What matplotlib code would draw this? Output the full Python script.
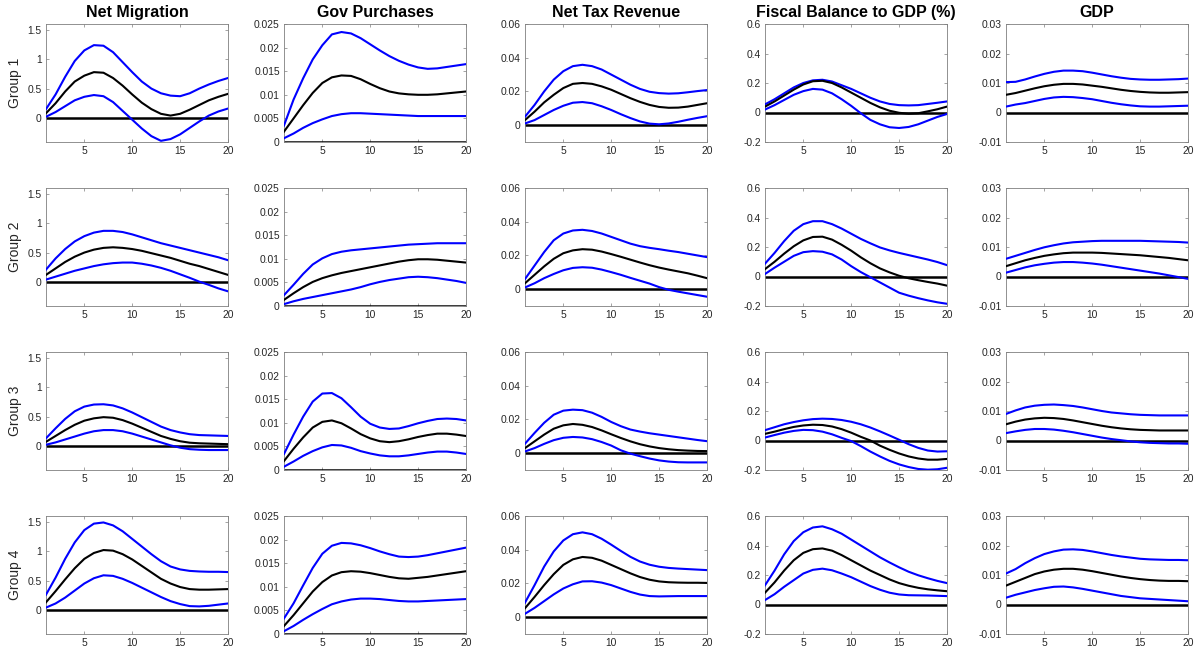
import numpy as np
import matplotlib
matplotlib.use("Agg")
import matplotlib.pyplot as plt

plt.rcParams['font.family'] = ['Liberation Sans', 'DejaVu Sans']

horizon = list(range(1, 21))
titles = ["Net Migration", "Gov Purchases", "Net Tax Revenue", "Fiscal Balance to GDP (%)", "GDP"]
groups = ["Group 1", "Group 2", "Group 3", "Group 4"]

# ---------- Net Migration ----------
nm_g1_up = [0.15, 0.40, 0.70, 0.97, 1.15, 1.24, 1.23, 1.12, 0.95, 0.78, 0.62, 0.50, 0.42, 0.38, 0.37, 0.42, 0.50, 0.57, 0.63, 0.68]
nm_g1_md = [0.08, 0.25, 0.45, 0.62, 0.72, 0.78, 0.77, 0.68, 0.55, 0.40, 0.26, 0.15, 0.07, 0.04, 0.07, 0.14, 0.22, 0.30, 0.36, 0.41]
nm_g1_lo = [0.02, 0.10, 0.20, 0.30, 0.36, 0.39, 0.37, 0.27, 0.12, -0.03, -0.18, -0.31, -0.39, -0.36, -0.28, -0.17, -0.06, 0.04, 0.11, 0.16]
nm_g2_up = [0.21, 0.40, 0.56, 0.69, 0.78, 0.84, 0.87, 0.87, 0.85, 0.81, 0.76, 0.71, 0.66, 0.62, 0.58, 0.54, 0.50, 0.46, 0.42, 0.37]
nm_g2_md = [0.12, 0.23, 0.34, 0.43, 0.50, 0.55, 0.58, 0.59, 0.58, 0.56, 0.53, 0.49, 0.45, 0.41, 0.36, 0.31, 0.27, 0.22, 0.17, 0.12]
nm_g2_lo = [0.04, 0.09, 0.14, 0.19, 0.23, 0.27, 0.30, 0.32, 0.33, 0.33, 0.31, 0.28, 0.24, 0.19, 0.13, 0.07, 0.005, -0.05, -0.11, -0.16]
nm_g3_up = [0.13, 0.30, 0.46, 0.59, 0.67, 0.705, 0.71, 0.69, 0.64, 0.57, 0.49, 0.41, 0.33, 0.27, 0.23, 0.20, 0.185, 0.18, 0.175, 0.17]
nm_g3_md = [0.07, 0.17, 0.27, 0.36, 0.43, 0.47, 0.49, 0.48, 0.44, 0.38, 0.31, 0.24, 0.17, 0.12, 0.08, 0.055, 0.045, 0.04, 0.035, 0.03]
nm_g3_lo = [0.02, 0.06, 0.11, 0.16, 0.21, 0.25, 0.27, 0.27, 0.25, 0.21, 0.16, 0.11, 0.06, 0.01, -0.03, -0.055, -0.065, -0.07, -0.07, -0.07]
nm_g4_up = [0.26, 0.55, 0.87, 1.15, 1.36, 1.47, 1.49, 1.44, 1.34, 1.21, 1.08, 0.95, 0.83, 0.74, 0.69, 0.665, 0.655, 0.65, 0.65, 0.645]
nm_g4_md = [0.13, 0.32, 0.52, 0.71, 0.87, 0.97, 1.02, 1.01, 0.95, 0.86, 0.75, 0.64, 0.53, 0.45, 0.39, 0.355, 0.345, 0.345, 0.35, 0.355]
nm_g4_lo = [0.04, 0.11, 0.21, 0.33, 0.45, 0.54, 0.59, 0.58, 0.53, 0.46, 0.38, 0.30, 0.22, 0.15, 0.10, 0.065, 0.06, 0.07, 0.09, 0.11]

# ---------- Gov Purchases ----------
gp_g1_up = [0.0035, 0.0090, 0.0135, 0.0175, 0.0205, 0.0228, 0.0233, 0.0230, 0.0220, 0.0207, 0.0194, 0.0182, 0.0172, 0.0164, 0.0158, 0.0155, 0.0156, 0.0159, 0.0162, 0.0165]
gp_g1_md = [0.0022, 0.0050, 0.0078, 0.0104, 0.0125, 0.0137, 0.0141, 0.0140, 0.0133, 0.0123, 0.0114, 0.0107, 0.0103, 0.0101, 0.0100, 0.0100, 0.0101, 0.0103, 0.0105, 0.0107]
gp_g1_lo = [0.0008, 0.0018, 0.0030, 0.0040, 0.0048, 0.0055, 0.0059, 0.0061, 0.0061, 0.0060, 0.0059, 0.0058, 0.0057, 0.0056, 0.0055, 0.0055, 0.0055, 0.0055, 0.0055, 0.0055]
gp_g2_up = [0.0023, 0.0045, 0.0068, 0.0088, 0.0101, 0.0110, 0.0115, 0.0118, 0.0120, 0.0122, 0.0124, 0.0126, 0.0128, 0.0130, 0.0131, 0.0132, 0.0133, 0.0133, 0.0133, 0.0133]
gp_g2_md = [0.0013, 0.0027, 0.0040, 0.0051, 0.0059, 0.0065, 0.0070, 0.0074, 0.0078, 0.0082, 0.0086, 0.0090, 0.0094, 0.0097, 0.0099, 0.0099, 0.0098, 0.0096, 0.0094, 0.0092]
gp_g2_lo = [0.0004, 0.0010, 0.0015, 0.0019, 0.0023, 0.0027, 0.0031, 0.0035, 0.0040, 0.0046, 0.0051, 0.0055, 0.0058, 0.0061, 0.0062, 0.0061, 0.0059, 0.0056, 0.0053, 0.0049]
gp_g3_up = [0.0034, 0.0075, 0.0113, 0.0145, 0.0162, 0.0163, 0.0152, 0.0133, 0.0113, 0.0098, 0.0090, 0.0087, 0.0088, 0.0093, 0.0099, 0.0104, 0.0108, 0.0109, 0.0108, 0.0105]
gp_g3_md = [0.0019, 0.0045, 0.0069, 0.0090, 0.0102, 0.0105, 0.0099, 0.0088, 0.0076, 0.0067, 0.0061, 0.0059, 0.0061, 0.0065, 0.0070, 0.0074, 0.0077, 0.0077, 0.0075, 0.0072]
gp_g3_lo = [0.0007, 0.0018, 0.0030, 0.0040, 0.0048, 0.0053, 0.0052, 0.0047, 0.0040, 0.0035, 0.0031, 0.0029, 0.0029, 0.0031, 0.0034, 0.0037, 0.0039, 0.0039, 0.0037, 0.0034]
gp_g4_up = [0.0033, 0.0065, 0.0103, 0.0140, 0.0170, 0.0187, 0.0193, 0.0192, 0.0188, 0.0182, 0.0175, 0.0169, 0.0164, 0.0163, 0.0164, 0.0167, 0.0171, 0.0175, 0.0179, 0.0183]
gp_g4_md = [0.0017, 0.0040, 0.0065, 0.0090, 0.0110, 0.0124, 0.0131, 0.0133, 0.0132, 0.0129, 0.0125, 0.0121, 0.0118, 0.0117, 0.0119, 0.0121, 0.0124, 0.0127, 0.0130, 0.0133]
gp_g4_lo = [0.0006, 0.0017, 0.0030, 0.0042, 0.0053, 0.0063, 0.0069, 0.0073, 0.0075, 0.0075, 0.0074, 0.0072, 0.0070, 0.0069, 0.0069, 0.0070, 0.0071, 0.0072, 0.0073, 0.0074]

# ---------- Net Tax Revenue ----------
tx_g1_up = [0.005, 0.012, 0.020, 0.027, 0.032, 0.035, 0.0358, 0.035, 0.033, 0.030, 0.027, 0.024, 0.0215, 0.0198, 0.0190, 0.0187, 0.0189, 0.0195, 0.0202, 0.0208]
tx_g1_md = [0.003, 0.008, 0.0135, 0.018, 0.022, 0.0245, 0.025, 0.0245, 0.023, 0.021, 0.0185, 0.016, 0.0138, 0.0120, 0.0108, 0.0103, 0.0104, 0.0110, 0.0120, 0.0130]
tx_g1_lo = [0.001, 0.003, 0.006, 0.009, 0.0115, 0.0133, 0.0137, 0.013, 0.0112, 0.009, 0.0065, 0.0042, 0.0022, 0.0009, 0.0005, 0.0010, 0.0020, 0.0032, 0.0043, 0.0053]
tx_g2_up = [0.006, 0.014, 0.022, 0.029, 0.033, 0.0348, 0.0352, 0.0345, 0.033, 0.031, 0.029, 0.027, 0.0255, 0.0245, 0.0237, 0.0228, 0.0220, 0.0210, 0.0200, 0.0190]
tx_g2_md = [0.0035, 0.0085, 0.0135, 0.018, 0.0213, 0.0230, 0.0237, 0.0234, 0.0223, 0.0208, 0.0192, 0.0175, 0.0158, 0.0142, 0.0128, 0.0116, 0.0105, 0.0094, 0.0080, 0.0065]
tx_g2_lo = [0.001, 0.0035, 0.0065, 0.009, 0.0112, 0.0126, 0.0130, 0.0127, 0.0116, 0.0101, 0.0085, 0.0067, 0.0050, 0.0033, 0.0012, -0.0004, -0.0015, -0.0025, -0.0035, -0.0045]
tx_g3_up = [0.0056, 0.012, 0.018, 0.0228, 0.0252, 0.0258, 0.0255, 0.0240, 0.0215, 0.0185, 0.0160, 0.0140, 0.0128, 0.0118, 0.0110, 0.0102, 0.0094, 0.0086, 0.0078, 0.0071]
tx_g3_md = [0.003, 0.007, 0.011, 0.0145, 0.0165, 0.0173, 0.0168, 0.0155, 0.0135, 0.0112, 0.0090, 0.0070, 0.0053, 0.0040, 0.0030, 0.0023, 0.0018, 0.0015, 0.0013, 0.0012]
tx_g3_lo = [0.001, 0.003, 0.0055, 0.0077, 0.0091, 0.0096, 0.0093, 0.0083, 0.0066, 0.0045, 0.0017, -0.0003, -0.0018, -0.0032, -0.0043, -0.0050, -0.0054, -0.0055, -0.0055, -0.0055]
tx_g4_up = [0.0086, 0.019, 0.030, 0.039, 0.0455, 0.0492, 0.0503, 0.0492, 0.0465, 0.0430, 0.0393, 0.0358, 0.0330, 0.0311, 0.0299, 0.0292, 0.0288, 0.0285, 0.0282, 0.0279]
tx_g4_md = [0.0053, 0.012, 0.019, 0.0255, 0.0310, 0.0343, 0.0357, 0.0352, 0.0335, 0.0310, 0.0285, 0.0260, 0.0238, 0.0222, 0.0212, 0.0207, 0.0205, 0.0204, 0.0204, 0.0203]
tx_g4_lo = [0.0020, 0.0055, 0.0095, 0.0135, 0.0170, 0.0195, 0.0212, 0.0213, 0.0205, 0.0190, 0.0170, 0.0150, 0.0134, 0.0125, 0.0123, 0.0124, 0.0125, 0.0125, 0.0125, 0.0125]

# ---------- Fiscal Balance to GDP (%) ----------
fb_g1_up = [0.055, 0.09, 0.13, 0.17, 0.20, 0.218, 0.222, 0.21, 0.185, 0.16, 0.13, 0.10, 0.075, 0.058, 0.050, 0.048, 0.050, 0.058, 0.066, 0.075]
fb_g1_md = [0.04, 0.075, 0.115, 0.155, 0.19, 0.212, 0.215, 0.20, 0.17, 0.135, 0.10, 0.065, 0.035, 0.012, -0.002, -0.008, -0.005, 0.008, 0.022, 0.04]
fb_g1_lo = [0.02, 0.05, 0.085, 0.12, 0.145, 0.16, 0.155, 0.13, 0.09, 0.045, -0.005, -0.05, -0.08, -0.10, -0.105, -0.098, -0.08, -0.055, -0.03, -0.01]
fb_g2_up = [0.087, 0.16, 0.24, 0.31, 0.355, 0.375, 0.375, 0.355, 0.325, 0.29, 0.255, 0.225, 0.197, 0.177, 0.160, 0.145, 0.130, 0.115, 0.098, 0.077]
fb_g2_md = [0.05, 0.10, 0.155, 0.205, 0.245, 0.268, 0.270, 0.250, 0.215, 0.175, 0.13, 0.09, 0.055, 0.028, 0.005, -0.012, -0.025, -0.037, -0.048, -0.062]
fb_g2_lo = [0.017, 0.06, 0.10, 0.14, 0.165, 0.172, 0.168, 0.15, 0.115, 0.07, 0.03, -0.005, -0.04, -0.075, -0.11, -0.13, -0.147, -0.162, -0.175, -0.185]
fb_g3_up = [0.07, 0.09, 0.11, 0.125, 0.137, 0.145, 0.148, 0.146, 0.139, 0.127, 0.11, 0.088, 0.062, 0.034, 0.005, -0.025, -0.05, -0.068, -0.075, -0.073]
fb_g3_md = [0.045, 0.06, 0.077, 0.092, 0.102, 0.107, 0.105, 0.095, 0.077, 0.053, 0.025, 0.0, -0.035, -0.063, -0.088, -0.108, -0.122, -0.13, -0.13, -0.125]
fb_g3_lo = [0.02, 0.037, 0.053, 0.065, 0.072, 0.07, 0.06, 0.042, 0.018, -0.004, -0.038, -0.075, -0.108, -0.138, -0.162, -0.18, -0.193, -0.198, -0.195, -0.185]
fb_g4_up = [0.13, 0.23, 0.34, 0.43, 0.49, 0.522, 0.53, 0.51, 0.48, 0.44, 0.40, 0.36, 0.32, 0.285, 0.252, 0.222, 0.198, 0.178, 0.16, 0.145]
fb_g4_md = [0.08, 0.15, 0.23, 0.30, 0.35, 0.375, 0.38, 0.365, 0.335, 0.30, 0.265, 0.23, 0.20, 0.17, 0.145, 0.127, 0.113, 0.103, 0.096, 0.09]
fb_g4_lo = [0.03, 0.07, 0.12, 0.165, 0.21, 0.235, 0.243, 0.232, 0.21, 0.185, 0.155, 0.125, 0.10, 0.08, 0.068, 0.063, 0.062, 0.061, 0.059, 0.057]

# ---------- GDP ----------
gd_g1_up = [0.0103, 0.0104, 0.0112, 0.0122, 0.0131, 0.0138, 0.0142, 0.0142, 0.0140, 0.0135, 0.0129, 0.0123, 0.0118, 0.0114, 0.0112, 0.0111, 0.0111, 0.0112, 0.0113, 0.0115]
gd_g1_md = [0.0060, 0.0066, 0.0074, 0.0082, 0.0089, 0.0094, 0.0097, 0.0097, 0.0095, 0.0091, 0.0087, 0.0082, 0.0077, 0.0073, 0.0070, 0.0068, 0.0067, 0.0067, 0.0068, 0.0069]
gd_g1_lo = [0.0020, 0.0027, 0.0032, 0.0039, 0.0046, 0.0051, 0.0053, 0.0052, 0.0049, 0.0045, 0.0039, 0.0033, 0.0028, 0.0024, 0.0021, 0.0020, 0.0020, 0.0021, 0.0022, 0.0023]
gd_g2_up = [0.0060, 0.0070, 0.0080, 0.0090, 0.0099, 0.0106, 0.0112, 0.0116, 0.0118, 0.0120, 0.0121, 0.0121, 0.0121, 0.0121, 0.0121, 0.0120, 0.0119, 0.0118, 0.0117, 0.0115]
gd_g2_md = [0.0035, 0.0045, 0.0055, 0.0063, 0.0070, 0.0075, 0.0079, 0.0081, 0.0081, 0.0081, 0.0080, 0.0078, 0.0076, 0.0074, 0.0072, 0.0069, 0.0066, 0.0063, 0.0059, 0.0055]
gd_g2_lo = [0.0013, 0.0022, 0.0031, 0.0038, 0.0043, 0.0047, 0.0049, 0.0049, 0.0047, 0.0044, 0.0040, 0.0035, 0.0030, 0.0025, 0.0020, 0.0015, 0.0010, 0.0004, -0.0002, -0.0008]
gd_g3_up = [0.0090, 0.0102, 0.0112, 0.0118, 0.0121, 0.0122, 0.0120, 0.0117, 0.0112, 0.0106, 0.0100, 0.0095, 0.0092, 0.0089, 0.0087, 0.0086, 0.0085, 0.0085, 0.0085, 0.0085]
gd_g3_md = [0.0055, 0.0064, 0.0071, 0.0075, 0.0077, 0.0076, 0.0073, 0.0068, 0.0062, 0.0056, 0.0050, 0.0045, 0.0041, 0.0038, 0.0036, 0.0035, 0.0034, 0.0034, 0.0034, 0.0034]
gd_g3_lo = [0.0025, 0.0031, 0.0036, 0.0039, 0.0039, 0.0037, 0.0033, 0.0028, 0.0022, 0.0016, 0.0010, 0.0005, 0.0001, -0.0003, -0.0006, -0.0008, -0.0009, -0.0010, -0.0010, -0.0011]
gd_g4_up = [0.0105, 0.0120, 0.0140, 0.0157, 0.0171, 0.0180, 0.0186, 0.0187, 0.0185, 0.0180, 0.0174, 0.0168, 0.0163, 0.0159, 0.0155, 0.0153, 0.0152, 0.0151, 0.0151, 0.0150]
gd_g4_md = [0.0064, 0.0077, 0.0090, 0.0103, 0.0112, 0.0118, 0.0121, 0.0121, 0.0118, 0.0113, 0.0107, 0.0101, 0.0095, 0.0090, 0.0086, 0.0083, 0.0081, 0.0080, 0.0080, 0.0079]
gd_g4_lo = [0.0023, 0.0033, 0.0041, 0.0049, 0.0055, 0.0060, 0.0061, 0.0058, 0.0053, 0.0047, 0.0041, 0.0035, 0.0029, 0.0025, 0.0021, 0.0019, 0.0017, 0.0015, 0.0013, 0.0011]

# axis settings per column
y_limits = [(-0.41, 1.6), (0, 0.025), (-0.01, 0.06), (-0.2, 0.6), (-0.01, 0.03)]
y_ticks = [[0, 0.5, 1, 1.5],
           [0, 0.005, 0.01, 0.015, 0.02, 0.025],
           [0, 0.02, 0.04, 0.06],
           [-0.2, 0, 0.2, 0.4, 0.6],
           [-0.01, 0, 0.01, 0.02, 0.03]]
y_ticklabels = [["0", "0.5", "1", "1.5"],
                ["0", "0.005", "0.01", "0.015", "0.02", "0.025"],
                ["0", "0.02", "0.04", "0.06"],
                ["-0.2", "0", "0.2", "0.4", "0.6"],
                ["-0.01", "0", "0.01", "0.02", "0.03"]]
x_ticks = [5, 10, 15, 20]

panels = [
    [(nm_g1_up, nm_g1_md, nm_g1_lo), (gp_g1_up, gp_g1_md, gp_g1_lo), (tx_g1_up, tx_g1_md, tx_g1_lo), (fb_g1_up, fb_g1_md, fb_g1_lo), (gd_g1_up, gd_g1_md, gd_g1_lo)],
    [(nm_g2_up, nm_g2_md, nm_g2_lo), (gp_g2_up, gp_g2_md, gp_g2_lo), (tx_g2_up, tx_g2_md, tx_g2_lo), (fb_g2_up, fb_g2_md, fb_g2_lo), (gd_g2_up, gd_g2_md, gd_g2_lo)],
    [(nm_g3_up, nm_g3_md, nm_g3_lo), (gp_g3_up, gp_g3_md, gp_g3_lo), (tx_g3_up, tx_g3_md, tx_g3_lo), (fb_g3_up, fb_g3_md, fb_g3_lo), (gd_g3_up, gd_g3_md, gd_g3_lo)],
    [(nm_g4_up, nm_g4_md, nm_g4_lo), (gp_g4_up, gp_g4_md, gp_g4_lo), (tx_g4_up, tx_g4_md, tx_g4_lo), (fb_g4_up, fb_g4_md, fb_g4_lo), (gd_g4_up, gd_g4_md, gd_g4_lo)],
]

W, H = 1198, 653
fig = plt.figure(figsize=(W / 100, H / 100), dpi=100)

col_left = [46, 284, 525, 765, 1006]
row_top = [24, 188, 352, 516]
ax_w, ax_h = 182, 118

spine_col = '#7f7f7f'
text_col = '#262626'

for r in range(4):
    for c in range(5):
        left = col_left[c] / W
        bottom = 1 - (row_top[r] + ax_h) / H
        ax = fig.add_axes([left, bottom, ax_w / W, ax_h / H])
        up, md, lo = panels[r][c]
        ax.axhline(0, color='black', lw=1.8, zorder=2)
        ax.plot(horizon, up, color='#0000ff', lw=1.5, zorder=3)
        ax.plot(horizon, lo, color='#0000ff', lw=1.5, zorder=3)
        ax.plot(horizon, md, color='black', lw=1.5, zorder=4)
        ax.set_xlim(1, 20)
        ax.set_ylim(*y_limits[c])
        ax.set_xticks(x_ticks)
        ax.set_xticklabels([str(t) for t in x_ticks])
        ax.set_yticks(y_ticks[c])
        ax.set_yticklabels(y_ticklabels[c])
        ax.tick_params(direction='in', length=2.5, width=0.5, colors=spine_col,
                       labelcolor=text_col, labelsize=7.4, top=True, right=True, pad=3)
        for s in ax.spines.values():
            s.set_color(spine_col)
            s.set_linewidth(0.6)
        if r == 0:
            ax.set_title(titles[c], fontsize=11.5, fontweight='bold', color='black', pad=5)
        if c == 0:
            yc = 1 - (row_top[r] + ax_h / 2) / H
            fig.text(15 / W, yc, groups[r], rotation=90, ha='center', va='center',
                     fontsize=10, color=text_col)

fig.savefig('out.png', dpi=100)
